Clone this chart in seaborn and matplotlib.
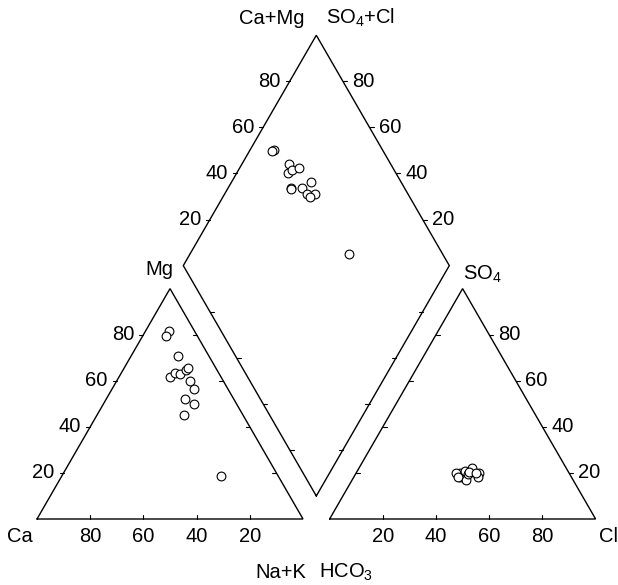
import numpy as np
import pandas as pd
import matplotlib
matplotlib.use("Agg")
import matplotlib.pyplot as plt
import seaborn as sns

# ---- data (percent of meq) ----
ca   = [9.6, 11.9, 11.5, 19.2, 16.3, 14.9, 11.7, 10.6, 12.4, 12.6, 18.2, 15.9, 21.9, 21.3]
mg   = [81.6, 79.4, 70.9, 61.5, 63.5, 62.9, 64.7, 65.4, 59.8, 56.4, 52.0, 49.9, 45.3, 18.7]
na_k = [8.8, 8.7, 17.6, 19.3, 20.2, 22.2, 23.6, 24.0, 27.8, 31.0, 29.8, 34.2, 32.8, 60.0]
hco3 = [40.9, 41.7, 38.5, 40.3, 38.1, 35.3, 42.5, 42.7, 38.6, 38.1, 33.9, 34.9, 37.4, 35.1]
so4  = [19.8, 18.4, 20.0, 16.9, 20.0, 22.0, 19.8, 18.4, 21.0, 19.5, 19.8, 18.4, 20.5, 20.0]
cl   = [39.3, 39.9, 41.5, 42.8, 41.9, 42.7, 37.7, 38.9, 40.4, 42.4, 46.3, 46.7, 42.1, 44.9]
tick_values = [20, 40, 60, 80]

sns.set_style("white")
plt.rcParams["font.family"] = ["Liberation Sans", "DejaVu Sans"]
plt.rcParams["mathtext.fontset"] = "custom"
plt.rcParams["mathtext.rm"] = "Liberation Sans"
plt.rcParams["mathtext.default"] = "regular"
plt.rcParams["text.color"] = "black"

H = np.sqrt(3) / 2
GAP = 0.1
OFF = 1 + GAP  # x offset of anion triangle

fig = plt.figure(figsize=(6.18, 5.85), dpi=100)
ax = fig.add_axes([0, 0, 1, 1])
px = 1 / 266.0

lw = 1.0
kw = dict(color="black", lw=lw, solid_joinstyle="miter")

# triangles
ax.plot([0, 1, 0.5, 0], [0, 0, H, 0], **kw)
ax.plot([OFF, OFF + 1, OFF + 0.5, OFF], [0, 0, H, 0], **kw)
# diamond
B = np.array([1 + GAP / 2, GAP * H])
L = B + np.array([-0.5, H])
R = B + np.array([0.5, H])
T = B + np.array([0, 2 * H])
ax.plot([B[0], L[0], T[0], R[0], B[0]], [B[1], L[1], T[1], R[1], B[1]], **kw)

tl = 4 * px
fs = 14.5

def seg(p, dx, dy):
    ax.plot([p[0], p[0] + dx], [p[1], p[1] + dy], color="black", lw=0.8)

for v in tick_values:
    f = v / 100
    # cation triangle: bottom (Ca %, 100 at Ca corner)
    p = np.array([1 - f, 0]); seg(p, 0, tl)
    ax.text(p[0], -18 * px, str(v), ha="center", va="center", fontsize=fs)
    # left edge Mg
    p = np.array([f * 0.5, f * H]); seg(p, -tl, 0)
    ax.text(p[0] - 9 * px, p[1], str(v), ha="right", va="center", fontsize=fs)
    # right edge (unlabeled)
    p = np.array([1 - f * 0.5, f * H]); seg(p, -tl, 0)
    # anion triangle bottom Cl
    p = np.array([OFF + f, 0]); seg(p, 0, tl)
    ax.text(p[0], -18 * px, str(v), ha="center", va="center", fontsize=fs)
    # right edge SO4
    p = np.array([OFF + 1 - f * 0.5, f * H]); seg(p, tl, 0)
    ax.text(p[0] + 9 * px, p[1], str(v), ha="left", va="center", fontsize=fs)
    # left edge (unlabeled)
    p = np.array([OFF + f * 0.5, f * H]); seg(p, tl, 0)
    # diamond upper-left
    p = L + f * (T - L); seg(p, -tl, 0)
    ax.text(p[0] - 9 * px, p[1], str(v), ha="right", va="center", fontsize=fs)
    # diamond upper-right
    p = R + f * (T - R); seg(p, tl, 0)
    ax.text(p[0] + 9 * px, p[1], str(v), ha="left", va="center", fontsize=fs)
    # diamond lower edges (unlabeled)
    p = B + f * (L - B); seg(p, tl, 0)
    p = B + f * (R - B); seg(p, -tl, 0)

# axis titles
ax.text(-17 * px, -18 * px, "Ca", ha="center", va="center", fontsize=fs)
ax.text(OFF + 1 + 13 * px, -18 * px, "Cl", ha="center", va="center", fontsize=fs)
ax.text(1 + 3 * px, -53 * px, "Na+K", ha="right", va="center", fontsize=fs)
ax.text(OFF - 11 * px, -53 * px, "HCO$_3$", ha="left", va="center", fontsize=fs)
ax.text(0.5 + 3 * px, H + 19 * px, "Mg", ha="right", va="center", fontsize=fs)
ax.text(OFF + 0.5, H + 14 * px, "SO$_4$", ha="left", va="center", fontsize=fs)
ax.text(T[0] - 12 * px, T[1] + 17 * px, "Ca+Mg", ha="right", va="center", fontsize=fs)
ax.text(T[0] + 10 * px, T[1] + 17 * px, "SO$_4$+Cl", ha="left", va="center", fontsize=fs)

# ---- points ----
ca_a, mg_a, nk_a = np.array(ca), np.array(mg), np.array(na_k)
hc_a, so_a, cl_a = np.array(hco3), np.array(so4), np.array(cl)
tot_c = ca_a + mg_a + nk_a
tot_a = hc_a + so_a + cl_a
n = nk_a / tot_c
m = mg_a / tot_c
s = so_a / tot_a
c = cl_a / tot_a
a = s + c

cx = n + m / 2
cy = m * H
ax_ = OFF + c + s / 2
ay = s * H
dx = (n + OFF + a) / 2
dy = np.sqrt(3) * (OFF + a - n) / 2

df = pd.DataFrame({
    "x": np.concatenate([cx, ax_, dx]),
    "y": np.concatenate([cy, ay, dy]),
})
sns.scatterplot(data=df, x="x", y="y", ax=ax, marker="o", s=40,
                facecolor="white", edgecolor="black", linewidth=0.8, zorder=5)
ax.set_xlim(-37 * px, (618 - 37) * px)
ax.set_ylim((519 - 585) * px, 519 * px)
ax.axis("off")

fig.savefig("out.png", dpi=100)
